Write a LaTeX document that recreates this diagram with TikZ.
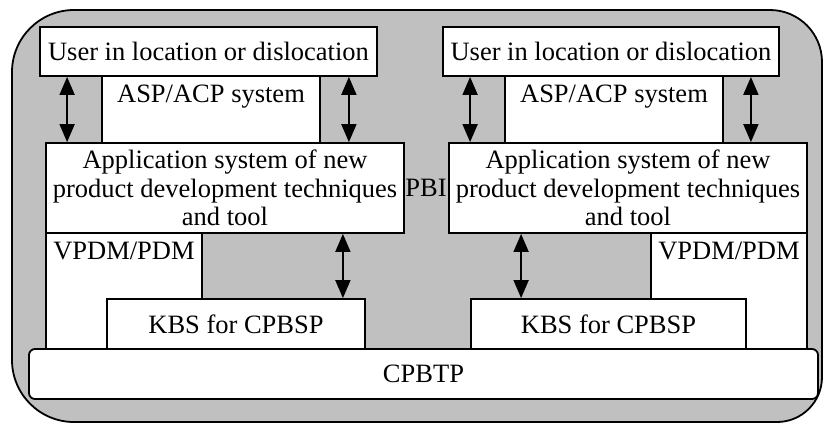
\documentclass[tikz,border=0pt]{standalone}
\usepackage{fontspec}
\setmainfont{Liberation Serif}
\usepackage{tikz}
\usetikzlibrary{arrows.meta}
\definecolor{bggray}{RGB}{192,192,192}

\begin{document}
\begin{tikzpicture}[x=1pt, y=-1pt, line width=1.8pt,
  font=\fontsize{26.5}{28.5}\selectfont,
  box/.style={draw, fill=white, rectangle, inner sep=0pt, align=center},
  toplabel/.style={label={[anchor=north, inner sep=0pt, yshift=-9pt]north:#1}},
  >={Triangle[length=18pt, width=15pt]}]
  \useasboundingbox (0,0) rectangle (824,424);
  % outer frame
  \draw[fill=bggray] (12,250) [rounded corners=62pt] -- (12,10) [rounded corners=52pt] -- (822,10)
    [rounded corners=45pt] -- (822,422) [rounded corners=62pt] -- (12,422) [sharp corners] -- cycle;

  % left column
  \node (aspL)  [box, minimum width=218pt, minimum height=67pt, toplabel=ASP/ACP system] at (211,109.5) {};
  \node (userL) [box, minimum width=337pt, minimum height=49pt] at (208.5,51.5) {User in location or dislocation};
  \node (appL)  [box, minimum width=358pt, minimum height=90pt] at (225,188)
    {Application system of new\\product development techniques\\and tool};
  \node (vpdmL) [box, minimum width=156pt, minimum height=116pt, toplabel=VPDM/PDM] at (124,291) {};
  \node (kbsL)  [box, minimum width=258pt, minimum height=50pt] at (236,324) {KBS for CPBSP};

  % right column
  \node (aspR)  [box, minimum width=218pt, minimum height=67pt, toplabel=ASP/ACP system] at (614,109.5) {};
  \node (userR) [box, minimum width=336pt, minimum height=49pt] at (611,51.5) {User in location or dislocation};
  \node (appR)  [box, minimum width=358pt, minimum height=90pt] at (628,188)
    {Application system of new\\product development techniques\\and tool};
  \node (vpdmR) [box, minimum width=156pt, minimum height=116pt, toplabel=VPDM/PDM] at (729,291) {};
  \node (kbsR)  [box, minimum width=275pt, minimum height=50pt] at (608.5,324) {KBS for CPBSP};

  \node (pbi) at (426,188) {PBI};
  \node (cpbtp) [box, rounded corners=6pt, minimum width=789pt, minimum height=50pt] at (423.5,374) {CPBTP};

  \draw[<->] ([xshift=28pt]userL.south west) -- ([xshift=28pt]userL.south west |- appL.north);
  \draw[<->] ([xshift=-29pt]userL.south east) -- ([xshift=-29pt]userL.south east |- appL.north);
  \draw[<->] ([xshift=28pt]userR.south west) -- ([xshift=28pt]userR.south west |- appR.north);
  \draw[<->] ([xshift=-29pt]userR.south east) -- ([xshift=-29pt]userR.south east |- appR.north);
  \draw[<->] ([xshift=-23pt]kbsL.north east |- appL.south) -- ([xshift=-23pt]kbsL.north east);
  \draw[<->] ([xshift=51pt]kbsR.north west |- appR.south) -- ([xshift=51pt]kbsR.north west);
\end{tikzpicture}
\end{document}
